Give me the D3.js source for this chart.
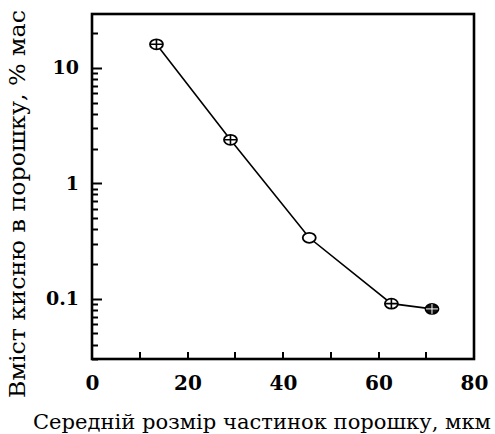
<!DOCTYPE html>
<html>
<head>
<meta charset="utf-8">
<script src="https://cdn.jsdelivr.net/npm/d3@7"></script>
<style>
  html, body { margin: 0; padding: 0; background: #fff; }
  svg { display: block; }
</style>
</head>
<body>
<svg id="chart" width="495" height="434"></svg>
<script>
// ---- data ----
const particleSize = [13.5, 29.0, 45.5, 62.7, 71.2];
const oxygenContent = [16.0, 2.38, 0.337, 0.0905, 0.0815];
const markerStyle = ["cross", "cross", "open", "cross", "filled"];
const xTickValues = [0, 20, 40, 60, 80];
const xMinorTicks = [10, 20, 30, 40, 50, 60, 70];
const yTickValues = [0.1, 1, 10];
const xTitle = "Середній розмір частинок порошку, мкм";
const yTitle = "Вміст кисню в порошку, % мас";

const svg = d3.select("#chart");
const mLeft = 92, mRight = 474, mTop = 14, mBottom = 359;

const x = d3.scaleLinear().domain([0, 80]).range([mLeft, mRight]);
const y = d3.scaleLog().domain([0.03, 29.3]).range([mBottom, mTop]);

// all log ticks (1..9 × decade) within domain
const yAllTicks = y.ticks();

const g = svg.append("g");

// y axis ticks (inside)
g.append("g").selectAll("line").data(yAllTicks).join("line")
  .attr("x1", mLeft).attr("x2", d => mLeft + (yTickValues.some(v => Math.abs(v - d) < 1e-9) ? 10 : 6))
  .attr("y1", d => Math.round(y(d)) + 0.5).attr("y2", d => Math.round(y(d)) + 0.5)
  .attr("stroke", "#000").attr("stroke-width", 2);

// y tick labels
g.append("g").attr("transform", `translate(${mLeft},0)`)
  .call(d3.axisLeft(y).tickValues(yTickValues).tickSize(0).tickPadding(13)
    .tickFormat(d => d >= 1 ? d3.format("d")(d) : String(d)))
  .call(a => a.select(".domain").remove())
  .call(a => a.selectAll("text")
    .attr("font-family", "DejaVu Serif, serif")
    .attr("font-weight", "bold")
    .attr("font-size", 19)
    .attr("fill", "#000"));

// x axis ticks (inside, pointing up)
g.append("g").selectAll("line").data(xMinorTicks).join("line")
  .attr("x1", d => Math.round(x(d))).attr("x2", d => Math.round(x(d)))
  .attr("y1", mBottom).attr("y2", mBottom - 7)
  .attr("stroke", "#000").attr("stroke-width", 2);

// x tick labels
g.append("g").attr("transform", `translate(0,${mBottom})`)
  .call(d3.axisBottom(x).tickValues(xTickValues).tickSize(0).tickPadding(17).tickFormat(d3.format("d")))
  .call(a => a.select(".domain").remove())
  .call(a => a.selectAll("text")
    .attr("font-family", "DejaVu Serif, serif")
    .attr("font-weight", "bold")
    .attr("font-size", 20)
    .attr("fill", "#000"));

// frame
g.append("rect")
  .attr("x", mLeft).attr("y", mTop)
  .attr("width", mRight - mLeft).attr("height", mBottom - mTop)
  .attr("fill", "none").attr("stroke", "#000").attr("stroke-width", 2.6);

// data line
const pts = particleSize.map((d, i) => [d, oxygenContent[i], markerStyle[i]]);
g.append("path")
  .datum(pts)
  .attr("fill", "none")
  .attr("stroke", "#000")
  .attr("stroke-width", 1.6)
  .attr("d", d3.line().x(d => x(d[0])).y(d => y(d[1])));

// markers
const m = g.append("g").selectAll("g").data(pts).join("g")
  .attr("transform", d => `translate(${x(d[0])},${y(d[1])})`);
m.append("ellipse")
  .attr("rx", 6.5).attr("ry", 5)
  .attr("fill", d => d[2] === "filled" ? "#111" : "#fff")
  .attr("stroke", "#000").attr("stroke-width", 1.8);
m.filter(d => d[2] !== "open").append("path")
  .attr("d", "M-6,0H6M0,-5V5")
  .attr("stroke", d => d[2] === "filled" ? "#fff" : "#000")
  .attr("stroke-width", d => d[2] === "filled" ? 1 : 1.6);

// axis titles
svg.append("text")
  .attr("x", 262).attr("y", 429)
  .attr("text-anchor", "middle")
  .attr("font-family", "DejaVu Serif, serif")
  .attr("font-size", 21)
  .attr("textLength", 458)
  .attr("lengthAdjust", "spacingAndGlyphs")
  .attr("fill", "#000")
  .text(xTitle);

svg.append("text")
  .attr("transform", "translate(25,204) rotate(-90)")
  .attr("text-anchor", "middle")
  .attr("font-family", "DejaVu Serif, serif")
  .attr("font-size", 22)
  .attr("textLength", 388)
  .attr("lengthAdjust", "spacingAndGlyphs")
  .attr("fill", "#000")
  .text(yTitle);
</script>
</body>
</html>
